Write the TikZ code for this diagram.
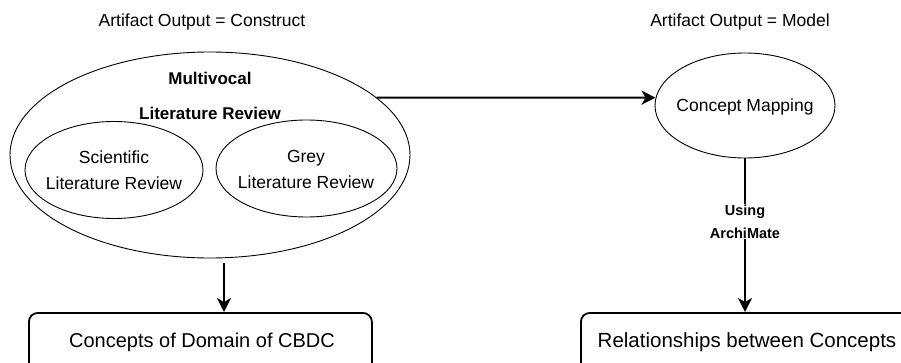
\documentclass[tikz,border=0pt]{standalone}
\usepackage{fontspec}
\setmainfont{Liberation Sans}
\usetikzlibrary{shapes.geometric,arrows.meta}
\tikzset{
  ell/.style={draw, ellipse, line width=0.9pt, inner sep=0pt},
  txt/.style={font=\fontsize{17.5}{20}\selectfont, align=center, inner sep=0pt},
  btxt/.style={font=\fontsize{17}{20}\selectfont\bfseries, align=center, inner sep=0pt},
  lbl/.style={font=\fontsize{14.5}{23}\selectfont\bfseries, align=center, fill=white, inner sep=1pt},
  box/.style={draw, rounded corners=9pt, line width=1.8pt},
  arr/.style={line width=1.9pt, -{Stealth[length=14pt,width=14pt,inset=4pt]}},
  plain/.style={line width=1.8pt}
}
\begin{document}
\begin{tikzpicture}[x=1pt,y=-1pt]
\useasboundingbox (0,0) rectangle (901,363);
% titles
\node[txt] (t1) at (202,22) {Artifact Output = Construct};
\node[txt] (t2) at (740,22) {Artifact Output = Model};
% big ellipse
\node[ell, minimum width=400pt, minimum height=206pt] (mlr) at (210,155) {};
\node[btxt] (mv) at (210,78) {Multivocal};
\node[btxt] (lr) at (210,113) {Literature Review};
\node[ell, minimum width=178pt, minimum height=97pt] (slr) at (114,170) {};
\node[txt] (slrt) at (114,170.5) {Scientific\\[6pt]Literature Review};
\node[ell, minimum width=181pt, minimum height=97pt] (glr) at (306.5,168.5) {};
\node[txt] (glrt) at (306,169.5) {Grey\\[6pt]Literature Review};
% concept mapping
\node[ell, minimum width=180pt, minimum height=105pt] (cm) at (745,105.5) {};
\node[txt] (cmt) at (745,107) {Concept Mapping};
% boxes
\node[box, minimum width=343pt, minimum height=62pt, anchor=north west] (b1) at (28,312) {};
\node[txt, font=\fontsize{20}{24}\selectfont] (b1t) at (202,342) {Concepts of Domain of CBDC};
\node[box, minimum width=334pt, minimum height=62pt, anchor=north west] (b2) at (580,312) {};
\node[txt, font=\fontsize{20.5}{24}\selectfont] (b2t) at (747,342) {Relationships between Concepts};
% connectors
\draw[arr] (mlr.19.9) -- (cm.175.5);
\coordinate (a1) at (224,263);
\draw[arr] (a1) -- (a1 |- b1.north);
\draw[arr] (cm.south) -- (cm.south |- b2.north)
  node[lbl, pos=0.41] (use) {Using\\ArchiMate};
\end{tikzpicture}
\end{document}
